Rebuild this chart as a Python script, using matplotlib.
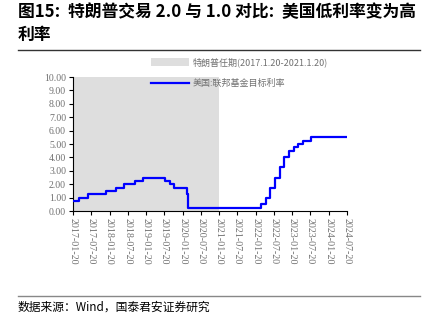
import pandas as pd
import matplotlib
matplotlib.use("Agg")
import matplotlib.pyplot as plt
from matplotlib.patches import Patch
from matplotlib.lines import Line2D

plt.rcParams['font.family'] = ['Noto Sans CJK SC', 'DejaVu Sans']

# fed funds target rate (upper bound), change dates
change_dates = ['2017-01-20', '2017-03-16', '2017-06-15', '2017-12-14', '2018-03-22',
                '2018-06-14', '2018-09-27', '2018-12-20', '2019-08-01', '2019-09-19',
                '2019-10-31', '2020-03-04', '2020-03-16', '2022-03-17', '2022-05-05',
                '2022-06-16', '2022-07-28', '2022-09-22', '2022-11-03', '2022-12-15',
                '2023-02-02', '2023-03-23', '2023-05-04', '2023-07-27', '2024-07-20']
rates = [0.75, 1.00, 1.25, 1.50, 1.75, 2.00, 2.25, 2.50, 2.25, 2.00,
         1.75, 1.25, 0.25, 0.50, 1.00, 1.75, 2.50, 3.25, 4.00, 4.50,
         4.75, 5.00, 5.25, 5.50, 5.50]
term_start = '2017-01-20'
term_end = '2021-01-20'
tick_labels = ['2017-01-20', '2017-07-20', '2018-01-20', '2018-07-20', '2019-01-20',
               '2019-07-20', '2020-01-20', '2020-07-20', '2021-01-20', '2021-07-20',
               '2022-01-20', '2022-07-20', '2023-01-20', '2023-07-20', '2024-01-20',
               '2024-07-20']
y_ticks = [0, 1, 2, 3, 4, 5, 6, 7, 8, 9, 10]

dates = pd.to_datetime(change_dates)
tick_dates = pd.to_datetime(tick_labels)

fig = plt.figure(figsize=(4.27, 3.27), dpi=100)
ax = fig.add_axes([0.171, 0.3547, 0.6417, 0.4098])

ax.axvspan(pd.Timestamp(term_start), pd.Timestamp(term_end), color='#dedede', lw=0, zorder=0)
ax.step(dates, rates, where='post', color='#0000ff', lw=1.6, zorder=3)

ax.set_xlim(tick_dates[0], tick_dates[-1])
ax.set_ylim(0, 10)
ax.set_yticks(y_ticks)
ax.set_yticklabels(['%.2f' % v for v in y_ticks], family='Liberation Serif', fontsize=7, color='#707070')
ax.set_xticks(tick_dates)
ax.set_xticklabels(tick_labels, rotation=270,
                   family='Liberation Serif', fontsize=7.2, color='#707070', va='top', ha='center')
ax.tick_params(axis='both', length=3, width=0.8, color='black', pad=2)
for s in ['top', 'right']:
    ax.spines[s].set_visible(False)
ax.spines['left'].set_linewidth(0.8)
ax.spines['bottom'].set_linewidth(0.8)
ax.set_facecolor('none')

handles = [Patch(facecolor='#dedede', edgecolor='none'),
           Line2D([0], [0], color='#0000ff', lw=1.6)]
labels = ['特朗普任期(2017.1.20-2021.1.20)', '美国:联邦基金目标利率']
fig.legend(handles, labels, loc='upper left', bbox_to_anchor=(0.345, 0.835), frameon=False,
           fontsize=6.5, labelcolor='#707070', handlelength=4.2, handleheight=0.9,
           labelspacing=1.3, handletextpad=0.4, borderaxespad=0)

fig.text(0.042, 0.99, '图15:  特朗普交易 2.0 与 1.0 对比:  美国低利率变为高\n利率',
         fontsize=12.1, fontweight='bold', va='top', ha='left', linespacing=1.3)
fig.add_artist(Line2D([0.042, 0.984], [0.847, 0.847], color='#333333', lw=1.0))
fig.add_artist(Line2D([0.042, 0.984], [0.094, 0.094], color='#888888', lw=1.0))
fig.text(0.042, 0.062, '数据来源：Wind，国泰君安证券研究', fontsize=8.5, va='center', ha='left')

plt.savefig('out.png', dpi=100)
